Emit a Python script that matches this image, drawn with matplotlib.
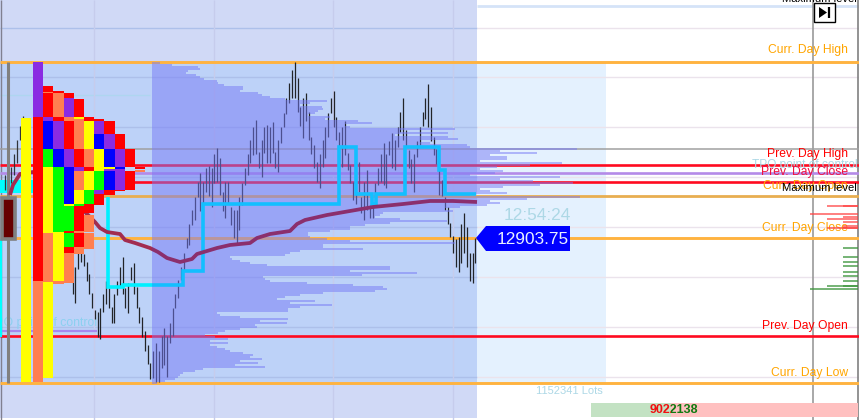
import numpy as np
import matplotlib
matplotlib.use("Agg")
import matplotlib.pyplot as plt
from matplotlib.patches import Rectangle, Polygon

# price levels, expressed as chart rows
curr_high, curr_open, curr_close, curr_low = 62, 196, 238, 383
prev_high, prev_close, prev_open = 164.5, 182, 336
tpo_poc = 173
last_price = "12903.75"

bar_high = [267,267,253,253,254,262,274,293,310,312,308,294,281,288,307,294,281,267,257,288,283,267,263,287,307,317,331,345,363,351,343,351,
            336,328,336,323,308,294,280,267,253,238,224,210,197,182,173,182,168,166,168,154,148,158,192,182,182,207,210,210,197,183,168,154,140,127,120,152,140,127,125,127,122,152,140,127,113,98,83,70,62,78,107,98,93,112,137,145,162,154,140,127,113,98,91,117,132,127,121,153,165,182,193,162,197,182,170,205,205,183,168,154,143,154,141,133,140,127,112,98,130,150,159,154,141,127,112,98,84,107,137,149,170,180,197,207,223,236,239,237,224,213,227,253,253,238]
bar_low = [294,303,269,262,266,281,294,308,319,337,339,312,304,308,323,323,295,287,294,308,313,280,294,308,323,337,351,364,379,378,382,382,
           368,365,377,343,336,308,298,280,270,248,245,225,220,197,211,204,192,196,207,183,182,195,211,218,204,225,238,243,230,205,185,175,163,155,154,168,177,153,163,163,153,168,172,143,127,114,103,98,98,112,126,138,121,140,154,168,182,188,167,158,137,113,127,140,148,167,155,170,183,200,204,192,213,220,210,218,218,197,185,182,185,188,155,168,170,147,132,140,147,168,183,192,157,145,126,119,127,141,155,164,195,196,210,224,237,253,267,272,263,253,267,281,283,263]
early_high = [175,178,167,154,140,126,116,154]
early_low = [190,192,183,175,163,140,130,185]

profile_edge = [160,172,198,200,188,186,196,200,204,217,218,224,243,243,240,258,262,270,285,327,310,300,322,323,318,315,308,330,325,358,372,345,350,455,400,448,395,448,458,420,430,467,470,577,500,537,490,507,507,480,562,530,497,480,503,495,470,560,500,533,573,540,503,480,490,507,470,580,527,490,500,487,460,445,453,383,380,375,400,447,390,365,350,350,330,308,308,310,327,350,455,323,323,363,300,290,285,230,232,240,250,267,390,390,350,417,362,263,265,270,307,353,383,387,375,323,300,285,277,315,290,332,300,288,288,217,220,240,288,260,287,255,257,240,225,218,205,215,228,210,228,210,217,225,230,243,253,250,262,240,258,235,265,203,195,183,180,178,175,165,157]

poc_x = [108,108,123,123,183,183,203,203,339,339,356,356,372,372,376,376,405,405,439,439,445,445,476]
poc_y = [197,287,287,285,285,271,271,204,204,147,147,194,194,204,204,194,194,147,147,170,170,194,194]
vwap_x = [10,13,20,33,85,95,100,107,120,125,135,150,158,167,180,192,197,217,230,250,257,270,290,297,305,327,350,373,403,430,453,477]
vwap_y = [195,185,174,172,212,222,228,232,234,240,243,248,252,258,262,259,254,248,245,243,238,234,231,224,220,215,211,207,204,201,201,202]

R,O,Y,G,B,P = '#FF0000','#FF7F50','#FFFF00','#00FF00','#0000FF','#8A2BE2'
tpo_columns = [
 [(62,117,P),(117,281,R),(281,382,O)],
 [(86,92,R),(92,93,O),(93,117,R),(117,121,P),(121,149,B),(149,167,G),(167,233,Y),(233,282,O),(282,378,Y)],
 [(91,93,R),(93,117,O),(117,121,R),(121,149,P),(149,167,B),(167,232,G),(232,281,Y),(281,284,O)],
 [(93,98,R),(98,117,P),(117,121,O),(121,149,R),(149,167,P),(167,204,B),(204,206,Y),(206,231,G),(231,233,R),(233,247,G),(247,253,R),(253,283,O)],
 [(99,117,R),(117,119,Y),(119,121,O),(121,149,O),(149,167,R),(167,171,P),(171,190,O),(190,204,Y),(204,206,G),(206,231,R),(231,233,O),(233,247,R),(247,254,O)],
 [(117,121,R),(121,149,Y),(149,167,O),(167,171,R),(171,190,Y),(190,204,G),(204,213,R),(215,232,O),(233,249,O)],
 [(119,121,R),(121,134,P),(134,149,B),(149,167,Y),(167,171,Y),(171,190,G),(190,194,P),(194,205,R)],
 [(121,134,R),(134,149,P),(149,167,B),(167,169,Y),(169,171,P),(171,190,B),(190,195,R)],
 [(134,149,R),(149,167,P),(167,169,B),(169,171,P),(171,190,P),(190,191,R)],
 [(149,167,R),(171,190,R)],
]
ask_rows = [206,206,214,217,219,222,226,228,228]
ask_size = [31,15,48,15,31,15,15,31,15]
bid_rows = [248,257,262,266,272,276,281,286,286,289]
bid_size = [15,15,15,15,15,15,15,31,15,48]
bid_lots, ask_lots = "9022138", "1152341 Lots"

plt.rcParams['font.family'] = ['Liberation Sans', 'DejaVu Sans']
fig = plt.figure(figsize=(8.59, 4.20), dpi=100)
ax = fig.add_axes([0, 0, 1, 1])
ax.set_xlim(0, 859); ax.set_ylim(420, 0); ax.axis('off')
def rect(x0, y0, x1, y1, c, z, **kw):
    ax.add_patch(Rectangle((x0, y0), x1-x0, y1-y0, fc=c, ec='none', zorder=z, antialiased=False, **kw))
def window(x0, x1):
    return Rectangle((x0, -10), x1-x0, 440, transform=ax.transData)

# backgrounds
rect(0, 0, 477, 418, '#D0D9F6', 1)
rect(0, curr_high, 477, curr_low, '#BDD2F8', 1.1)
rect(477, curr_high, 606, curr_low, '#E4F1FE', 1.1)

# grid
grid_rows = [28,77,127,177,227,277,327,377]
ax.hlines(grid_rows, 0, 477, color='#ADC0EA', lw=1, zorder=2)
ax.hlines(grid_rows, 477, 859, color='#EBE3EC', lw=1, zorder=2)
ax.hlines(6, 477, 859, color='#D5E3F8', lw=2, zorder=2)
ax.hlines(95, 0, 150, color='#AED6F0', lw=1, zorder=2)
ax.vlines([94,214,333,452.5], 0, 420, color='#C6CCEC', lw=1, zorder=2)
ax.vlines(813, 0, 420, color='#999999', lw=1.2, zorder=2)
ax.vlines(858, 0, 420, color='#808080', lw=1.2, zorder=2)
ax.vlines(0.5, 0, 420, color='#808090', lw=1, zorder=2)
ax.hlines(149, 0, 859, color='#A0A0A0', lw=1.1, zorder=2.1)

# level lines
ax.hlines([curr_high,curr_close,curr_low], 0, 859, color='#FFB340', lw=2.1, zorder=3)
ax.hlines(curr_open, 0, 859, color='#E8AE50', lw=2.0, zorder=3)
ax.hlines([prev_high,prev_close,prev_open], 0, 859, color='#FF0A20', lw=1.9, zorder=3)
ax.hlines(tpo_poc, 0, 859, color='#B48AE8', lw=1.9, zorder=3)
ax.hlines(330.5, 0, 97, color='#A588EE', lw=1.6, zorder=3)

# texts behind
txt = dict(ha='right', va='center', fontsize=8.7, zorder=3.2)
ax.text(97, 323, 'TPO point of control', color='#8CD0F0', ha='right', va='center', fontsize=8.8, zorder=3.2)
ax.text(858, 165, 'TPO point of control', color='#ADD8E6', ha='right', va='center', fontsize=8.6, zorder=3.2)
ax.text(848, 186, 'Curr. Day Open', color='#FFA500', **txt)
ax.text(848, 50, 'Curr. Day High', color='#FFA500', **txt)
ax.text(848, 154, 'Prev. Day High', color='#FF0000', **txt)
ax.text(848, 171.5, 'Prev. Day Close', color='#F01040', **txt)
ax.text(848, 228, 'Curr. Day Close', color='#FFA500', **txt)
ax.text(848, 326, 'Prev. Day Open', color='#FF0000', **txt)
ax.text(848, 373, 'Curr. Day Low', color='#FFA500', **txt)
ax.text(857, 188, 'Maximum level', color='black', ha='right', va='center', fontsize=8.1, zorder=8)
ax.text(857, -1, 'Maximum level', color='black', ha='right', va='center', fontsize=8.1, zorder=8)

# left candle and poc block
rect(0, 180, 33, 193, '#00FFFF', 3.4)
ax.plot([1,1], [240,336], color='#00FFFF', lw=1.6, zorder=3.4)
ax.vlines(7.5, curr_high, curr_low, color='#808080', lw=2.2, zorder=5)
ax.add_patch(Rectangle((1.5,198), 13.5, 41, fc='#660000', ec='#808080', lw=2.6, zorder=5.1))

# price bars, behind profile overlay
ax.vlines(np.linspace(5, 26.5, len(early_high)), early_high, early_low, color='#30343C', lw=0.9, zorder=4)
ax.vlines(np.linspace(72.7, 475.3, len(bar_high)), bar_high, bar_low, color='#222428', lw=0.9, zorder=4)

# volume profile
rows = curr_high + np.arange(len(profile_edge))*2
ax.barh(rows, np.array(profile_edge)-152, height=2, left=152, align='edge', color='#777AF6', alpha=0.5, lw=0, zorder=6, antialiased=False)

# poc path, brighter left of the profile
for c, w in (('#00F0FF', window(0, 152)), ('#12BFFF', window(152, 859))):
    ln, = ax.plot(poc_x, poc_y, color=c, lw=2.6, zorder=6.3, solid_joinstyle='miter', solid_capstyle='butt')
    ln.set_clip_path(w)

# vwap
for c, w in (('#A22C50', window(0, 152)), ('#8B2F6D', window(152, 859))):
    ln, = ax.plot(vwap_x, vwap_y, color=c, lw=2.7, zorder=6.5, solid_capstyle='butt')
    ln.set_clip_path(w)

# TPO letters
rect(21, 118, 31, 382, Y, 7)
col_edges = np.linspace(33, 135, 11)
for i, col in enumerate(tpo_columns):
    for y0, y1, c in col:
        rect(col_edges[i], y0, col_edges[i+1], y1, c, 7)
rect(135, 167, 145, 169, R, 7)
rect(135, 170, 145, 172, O, 7)

# order flow
ax.barh(ask_rows, ask_size, left=[858-s for s in ask_size], height=2.2, color='#FF4040', lw=0, zorder=7, alpha=.65)
ax.barh(bid_rows, bid_size, left=[858-s for s in bid_size], height=2.2, color='#3F963F', lw=0, zorder=7, alpha=.7)

# labels
ax.text(537, 216, '12:54:24', color='#ADD8E6', ha='center', va='center', fontsize=12.4, zorder=8)
ax.add_patch(Polygon([(476,238),(486,226),(570,226),(570,251),(486,251)], fc='#0000FF', ec='none', zorder=8))
ax.text(569, 239, last_price, color='#E8F0FF', ha='right', va='center', fontsize=12.4, zorder=9)
ax.text(603, 391, ask_lots, color='#ADD8E6', ha='right', va='center', fontsize=8, zorder=8)
rect(591, 403, 671, 417, '#C3E2C3', 8)
rect(671, 403, 858, 417, '#FFC0C0', 8)
for c, w in (('#F01010', window(0, 671)), ('#107A10', window(671, 859))):
    t = ax.text(673.5, 410, bid_lots, color=c, ha='center', va='center', fontsize=9, fontweight='bold', zorder=9, clip_on=True)
    t.set_clip_path(w)
# button
ax.add_patch(Rectangle((814,3), 20.5, 19, fc='white', ec='black', lw=1, zorder=9))
ax.add_patch(Polygon([(819,7),(819,18),(827,12.5)], fc='black', ec='none', zorder=10))
ax.vlines(828.5, 7, 18, color='black', lw=1.6, zorder=10)
fig.savefig('out.png', dpi=100)
